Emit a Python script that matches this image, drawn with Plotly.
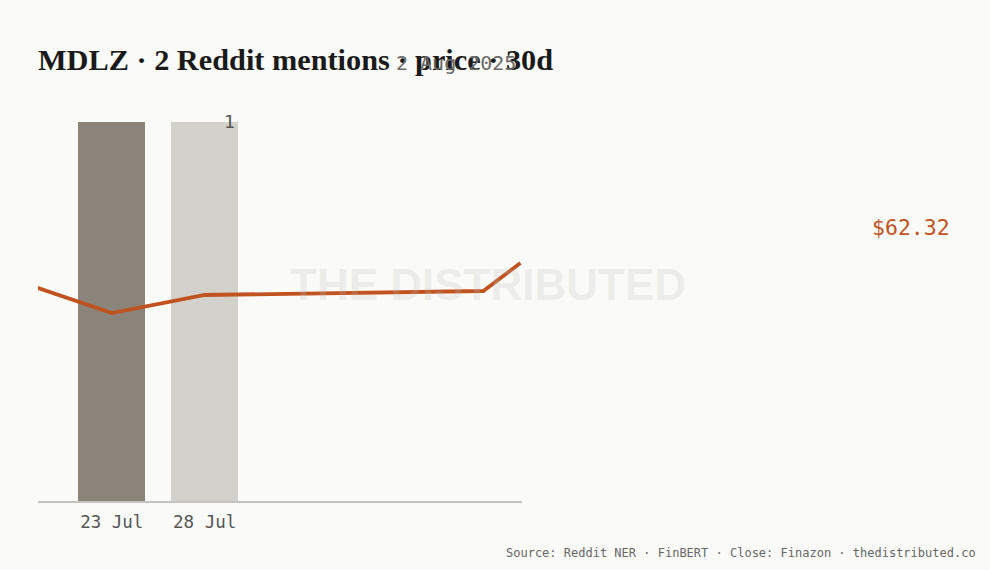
import plotly.graph_objects as go

# Data
bar_dates = ["2025-07-23", "2025-07-28"]
bar_counts = [1, 1]
bar_colors = ["#8a847b", "#d3d1cc"]

price_dates = ["2025-07-19", "2025-07-23", "2025-07-28", "2025-08-12", "2025-08-14"]
price_values = [61.70, 61.07, 61.52, 61.62, 62.32]

tick_vals = ["2025-07-23", "2025-07-28"]
tick_text = ["23 Jul", "28 Jul"]

title_text = "MDLZ · 2 Reddit mentions · price · 30d"
last_label = "$62.32"
date_label = "2 Aug 2025"
source_text = "Source: Reddit NER · FinBERT · Close: Finazon · thedistributed.co"

BG = "#fafaf8"
ORANGE = "#c0531f"
MONO = "DejaVu Sans Mono"

fig = go.Figure()
fig.add_trace(go.Bar(
    x=bar_dates, y=bar_counts, marker=dict(color=bar_colors, line=dict(width=0)),
    width=[3.6 * 86400000] * len(bar_dates), yaxis="y", hoverinfo="skip",
))
fig.add_trace(go.Scatter(
    x=price_dates, y=price_values, mode="lines",
    line=dict(color=ORANGE, width=3.8), yaxis="y2", hoverinfo="skip",
))

fig.update_layout(
    width=990, height=570,
    paper_bgcolor=BG, plot_bgcolor=BG,
    margin=dict(l=38, r=468, t=100, b=69),
    showlegend=False,
    bargap=0,
    title=dict(text=title_text, x=38 / 990, xanchor="left", xref="container",
               y=1 - 59 / 570, yanchor="middle",
               font=dict(family="Liberation Serif", size=30.3, color="#1a1a1a", weight="bold")),
    xaxis=dict(type="date", range=["2025-07-19 00:40", "2025-08-14 02:00"],
               tickvals=tick_vals, ticktext=tick_text, showgrid=False, zeroline=False,
               showline=True, linecolor="#c4c4c0", linewidth=2, ticks="",
               ticklabelstandoff=4,
               tickfont=dict(family=MONO, size=17.5, color="#555555")),
    yaxis=dict(range=[0, 1.058], visible=False, showgrid=False, zeroline=False),
    yaxis2=dict(range=[56.37, 66.395], overlaying="y", visible=False, showgrid=False, zeroline=False),
)

fig.add_annotation(text="THE DISTRIBUTED", xref="paper", yref="paper",
                   x=(488 - 38) / 484, y=(501 - 284) / 401, showarrow=False,
                   xanchor="center", yanchor="middle",
                   font=dict(family="Liberation Sans", size=44, color="rgba(190,190,190,0.22)", weight="bold"))
fig.add_annotation(text=date_label, xref="paper", yref="paper",
                   x=(456 - 38) / 484, y=(501 - 63) / 401, showarrow=False,
                   xanchor="center", yanchor="middle",
                   font=dict(family=MONO, size=20, color="#6b6b6b"))
fig.add_annotation(text=str(bar_counts[1]), x=bar_dates[1], y=bar_counts[1], xref="x", yref="y",
                   showarrow=False, xanchor="center", yanchor="middle", xshift=25,
                   font=dict(family=MONO, size=18, color="#555555"))
fig.add_annotation(text=last_label, xref="paper", yref="paper",
                   x=(952 - 38) / 484, y=(501 - 227) / 401, showarrow=False,
                   xanchor="right", yanchor="middle",
                   font=dict(family=MONO, size=21.5, color=ORANGE))
fig.add_annotation(text=source_text, xref="paper", yref="paper",
                   x=(978 - 38) / 484, y=(501 - 553) / 401, showarrow=False,
                   xanchor="right", yanchor="middle",
                   font=dict(family=MONO, size=12, color="#666666"))

fig.write_html("out.html", config={"displayModeBar": False},
               post_script="document.body.style.margin='0';document.body.style.background='#fafaf8';")
